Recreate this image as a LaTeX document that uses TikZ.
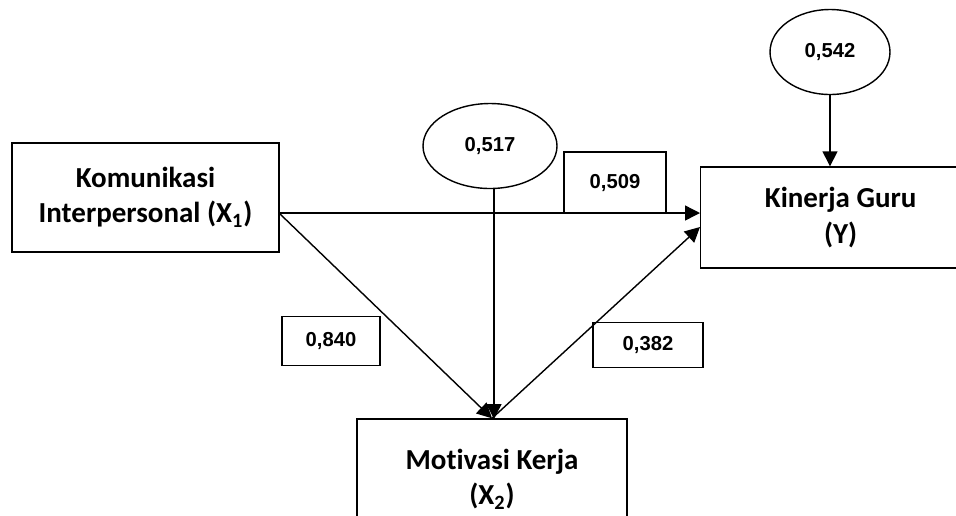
\documentclass[tikz,border=0pt]{standalone}
\usepackage{fontspec}
\setmainfont{Carlito}[Ligatures=NoCommon]
\newfontfamily\numfont{Liberation Sans}
\usetikzlibrary{positioning,arrows.meta,shapes.geometric}

\begin{document}
\begin{tikzpicture}[x=0.02cm, y=-0.02cm,
        var/.style={rectangle, draw, line width=0.8pt, align=center,
            font=\fontsize{16.5}{20}\selectfont\bfseries},
        coef/.style={rectangle, draw, line width=0.8pt, inner sep=0pt,
            font=\numfont\fontsize{11.5}{14}\selectfont\bfseries},
        err/.style={ellipse, draw, line width=0.8pt, inner sep=0pt,
            font=\numfont\fontsize{11.5}{14}\selectfont\bfseries},
        arrow/.style={-{Triangle[length=3mm,width=3mm]}, line width=0.8pt}
    ]
        \useasboundingbox (0,0) rectangle (956,515);

        \node[var, minimum width=5.34cm, minimum height=2.18cm] (x1) at (145.5,197.5) {Komunikasi\\Interpersonal (X\textsubscript{1})};
        \node[var, anchor=west, minimum width=5.6cm, minimum height=2.02cm] (y) at (700,217.5) {Kinerja Guru\\(Y)};
        \node[var, minimum width=5.4cm, minimum height=2.4cm] (x2) at (492,479) {Motivasi Kerja\\(X\textsubscript{2})};

        \node[err, minimum width=2.68cm, minimum height=1.7cm] (e2) at (490,146) {0,517};
        \node[err, minimum width=2.4cm, minimum height=1.7cm] (e1) at (830,52) {0,542};

        \node[coef, minimum width=2.04cm, minimum height=1.22cm] (c509) at (615,182.5) {0,509};
        \node[coef, minimum width=1.96cm, minimum height=0.98cm] (c840) at (331,341) {0,840};
        \node[coef, minimum width=2.2cm, minimum height=0.9cm] (c382) at (648,345) {0,382};

        \coordinate (x1out) at (279,213);
        \coordinate (yin1) at (y.west |- x1out);
        \coordinate (yin2) at (700,227);
        \coordinate (e2out) at (494,188);
        \coordinate (x2in) at (494,419);

        \draw[arrow] (x1out) -- (yin1);
        \draw[arrow] (x1out) -- (x2.north);
        \draw[arrow] (e2out) -- (x2in);
        \draw[arrow] (x2.north) -- (yin2);
        \draw[arrow] (e1) -- (y.north -| e1);
    \end{tikzpicture}
\end{document}
